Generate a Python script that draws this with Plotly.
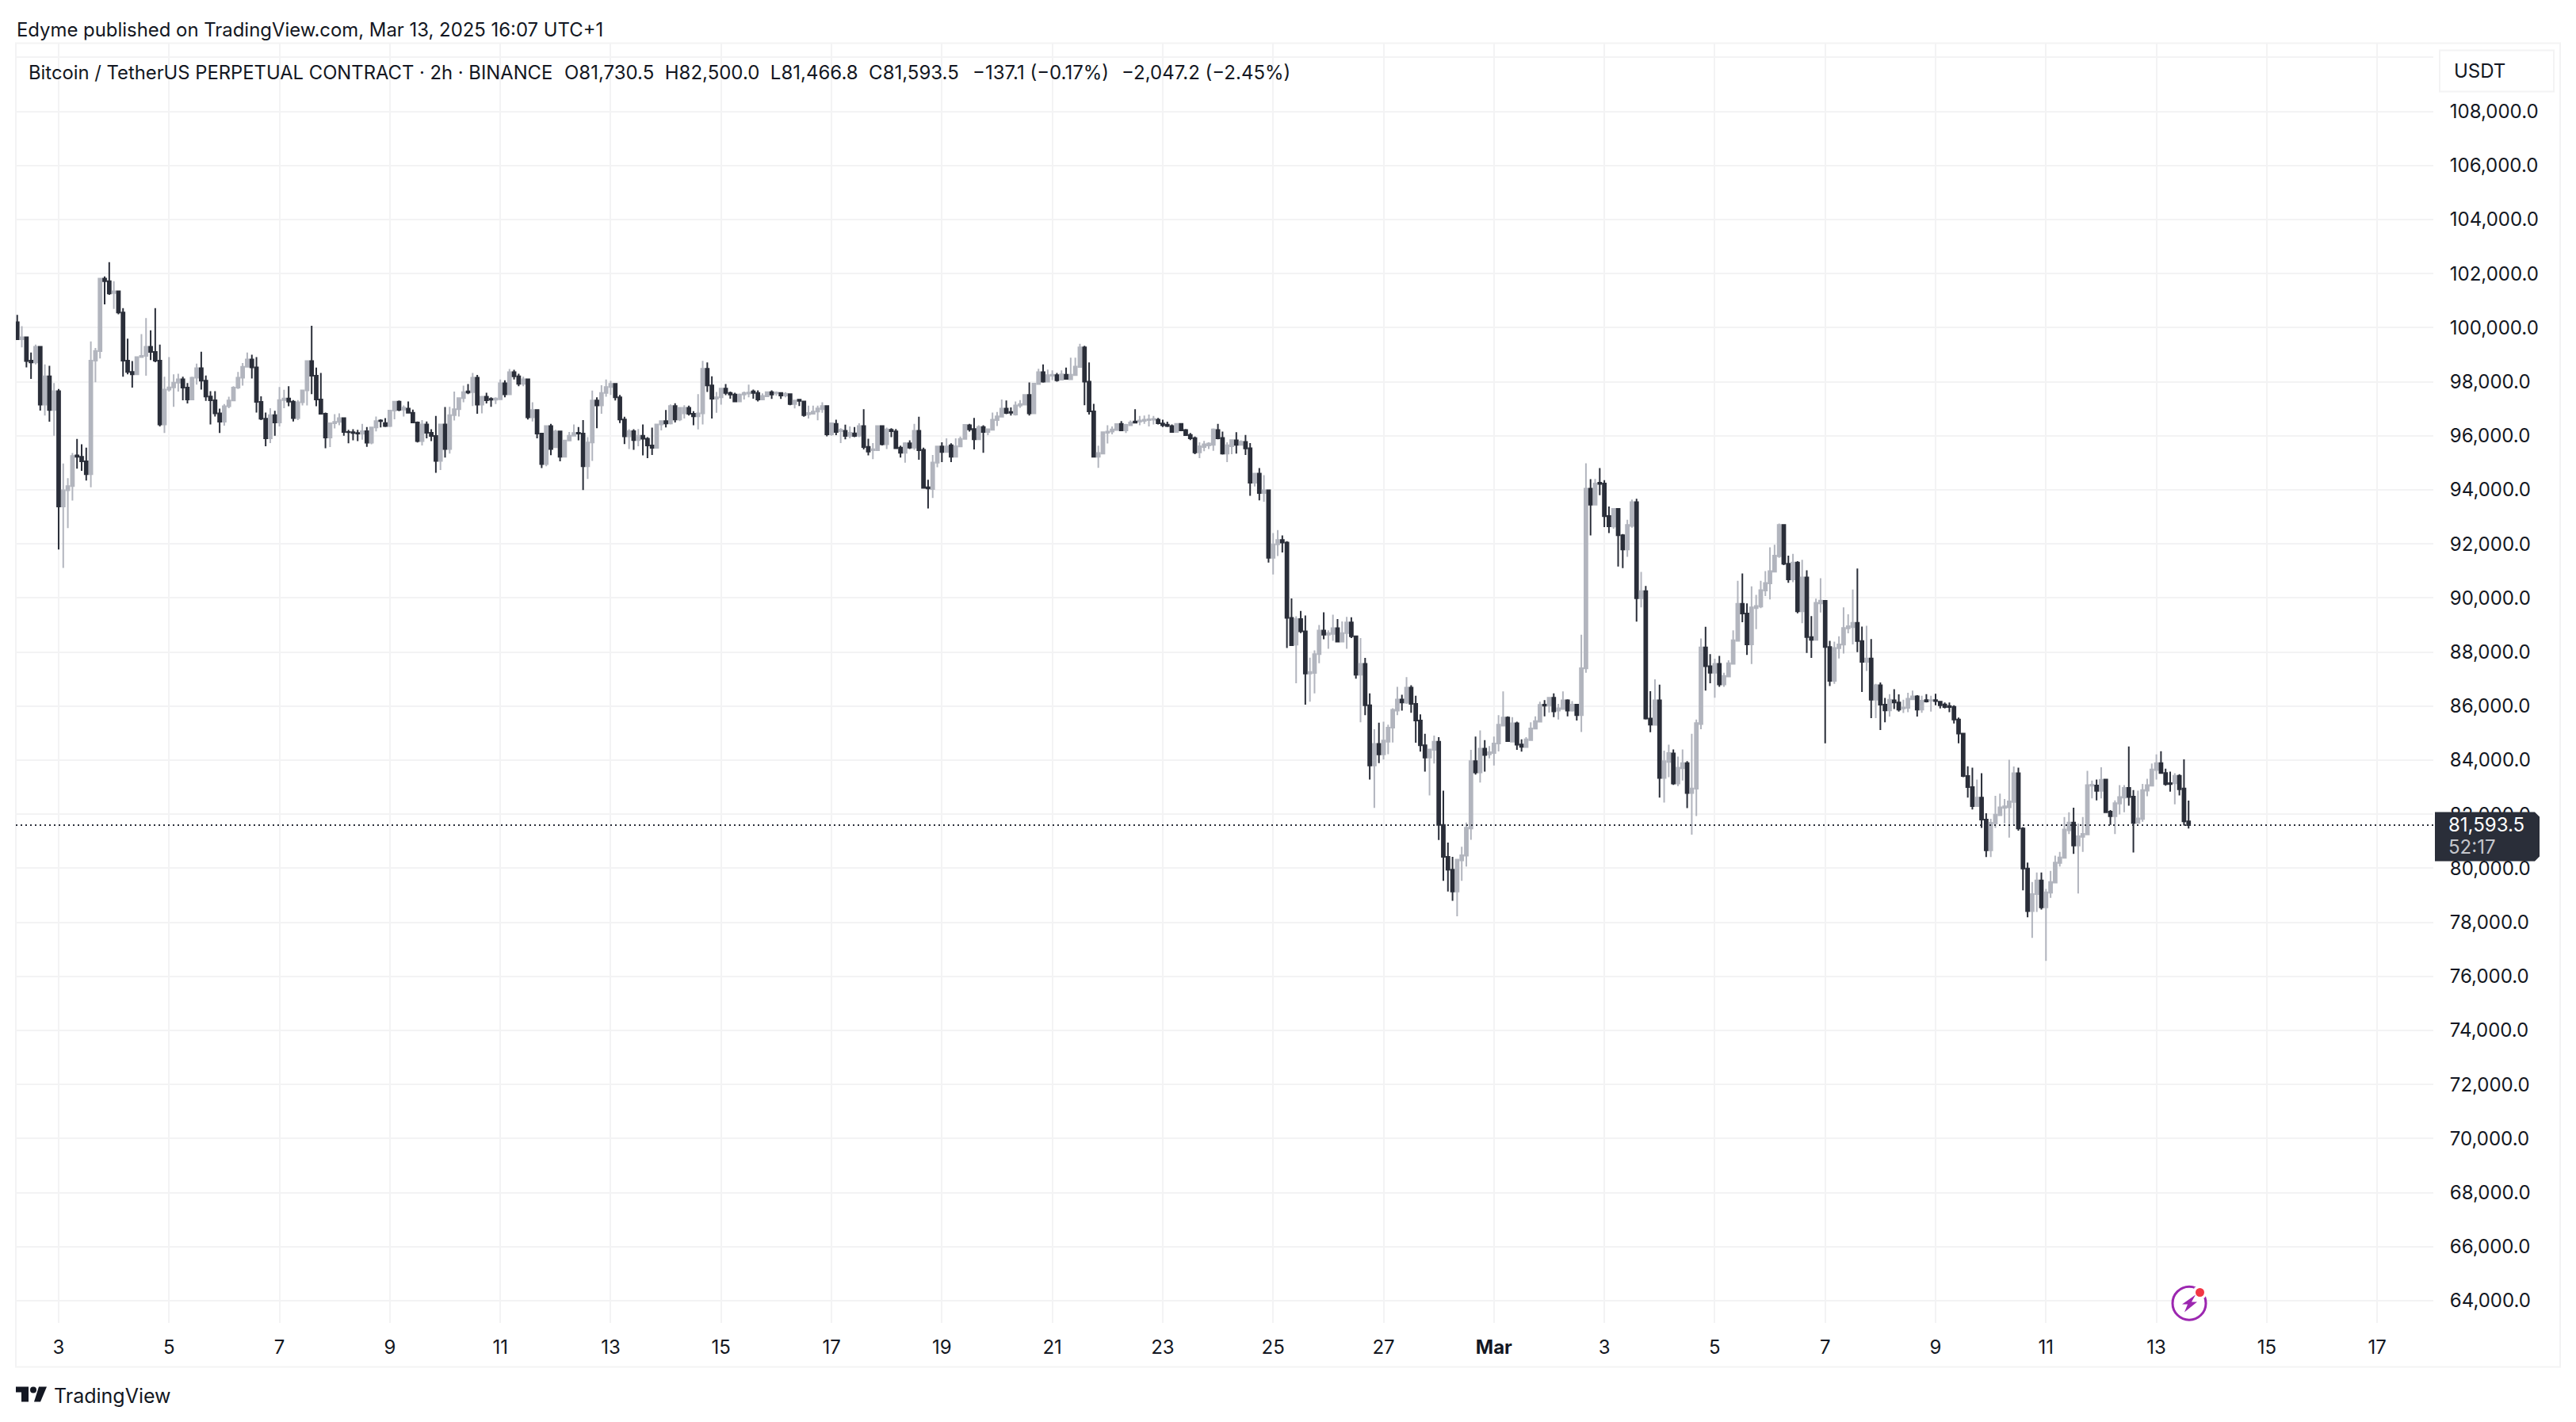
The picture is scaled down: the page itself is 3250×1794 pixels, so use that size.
import pandas as pd
import plotly.graph_objects as go

# 2h BTCUSDT.P bars
opens = [
    100200,99570,99640,98780,98710,99290,97150,98200,96950,97650,
    93380,93980,94140,95270,95220,95050,94580,98780,99130,101810,
    101720,101280,101340,100560,98780,98360,98270,98910,98950,99290,
    99100,98780,96420,97710,97790,97960,98090,97780,97340,98150,
    98500,98040,97450,97310,96830,96520,97090,97300,97780,98150,
    98550,98820,98530,97250,96630,95900,96760,96490,97320,97380,
    97260,96650,97240,97680,98760,98220,97340,96810,95930,96460,
    96510,96650,96140,96130,96100,96070,96170,95740,96310,96560,
    96470,96360,96930,97260,96970,97000,96850,96490,95800,96420,
    96110,95990,95070,96420,95510,96760,96980,97390,97640,97610,
    98150,97150,97440,97360,97330,97350,97940,97530,98350,98200,
    97920,98090,96680,96950,96080,94950,96360,95570,96160,95220,
    95820,96000,96110,96080,94870,95750,97300,97120,97580,97800,
    97920,97420,96600,95980,96170,
    95840,96000,95890,95640,95550,96420,96540,96450,97100,96600,
    96830,97030,96810,96720,96830,98480,97860,97370,97420,97740,
    97580,97520,97270,97520,97560,97640,97580,97340,97460,97610,
    97570,97580,97490,97540,97170,97330,97270,96790,96810,96890,
    96980,97100,96050,96440,96170,96180,95990,96090,96000,96360,
    95590,95460,95460,96360,95680,96220,96160,95560,95370,95720,
    95560,96180,95480,94090,94030,95000,95600,95400,95650,95220,
    95600,95880,96390,96250,95870,96320,96140,96220,96580,96700,
    97000,96880,96780,97110,97150,97510,96830,97910,98350,98000,
    98220,98240,98070,98260,98090,98240,98540,99270,98000,96900,
    95220,95340,96110,96150,96210,96440,96200,96390,96530,96520,
    96550,96580,96590,96590,96450,96410,96360,96140,96440,96210,
    96030,95910,95380,95580,95640,95660,96210,95920,95340,95610,
    95830,95660,95770,95540,94260,94600,93880,
    93980,91480,91980,92140,92050,89260,88270,89220,88760,87200,
    87220,87920,88790,88640,88670,88880,88380,88700,89090,88580,
    87160,87560,86030,83800,84600,84210,84680,85200,85830,86240,
    86120,86680,86080,85460,84550,84090,84380,84680,81600,80420,
    79940,79140,80290,80460,81470,83960,83540,84420,84210,84260,
    84610,85270,85570,84680,85360,84580,84480,84740,85160,85420,
    86050,86010,86310,85830,85890,86210,85830,86050,85660,87390,
    94040,93450,94260,94230,93030,92640,93290,92320,91790,92660,
    93540,89990,90250,85540,85300,86210,83340,83930,84250,83130,
    83700,83890,82780,82940,85330,88170,87470,87230,87560,86800,
    87090,87560,88410,89780,
    89420,88280,89620,89680,90270,90540,90970,91540,92700,91260,
    90680,91310,89500,90760,88550,88450,89800,89890,88180,86930,
    88140,88270,88870,88920,89080,88400,87630,87760,86230,86770,
    86050,85840,86210,86130,85910,85930,86250,86360,85870,86220,
    86200,86220,86160,86060,86000,85970,85500,84980,83410,83000,
    82300,82610,81800,80660,81660,81960,82230,82250,82450,83510,
    81470,79990,78410,79040,79550,78550,79090,79470,80190,80380,
    81400,81690,80840,81160,81250,83050,83060,82860,83280,82090,
    81920,82390,82610,82970,82650,81670,81820,82870,83050,83630,
    83890,83520,83150,83140,83420,82950,81730.5,
]
highs = [
    100470,100050,99640,99080,99370,99300,98640,98590,97950,97730,
    94970,94430,95360,95880,95680,95560,99490,99250,101810,101890,
    102420,101720,101360,100720,99590,98760,98910,99760,100350,99900,
    100720,99370,98180,98910,98270,98290,98180,97950,98180,98670,
    99110,98230,97650,97650,97000,97170,97440,97830,98360,98690,
    99080,99000,98910,97460,96860,97020,96920,97800,97700,97830,
    97320,97320,97710,98780,100070,98520,98320,96860,96490,96800,
    96830,96660,96220,96240,96220,96440,96320,96320,96710,96610,
    96650,96950,97260,97300,97120,97270,96970,96530,96580,96530,
    96240,96730,96440,97060,97070,97630,97420,97850,97910,98320,
    98250,97460,97590,97420,97420,98080,98050,98470,98440,98290,
    98180,98100,97240,96980,96100,96390,96440,96220,96180,95850,
    96140,96420,96320,96580,95950,97670,97420,97870,98080,98030,
    97930,97510,96700,96240,96240,
    96250,96420,95950,96300,96420,96570,96950,97160,97200,97030,
    97130,97110,96910,97540,98770,98710,98200,97620,97760,97910,
    97630,97590,97560,97630,97890,97710,97680,97570,97630,97680,
    97640,97610,97610,97560,97300,97340,97270,97110,97110,97110,
    97240,97130,96460,96590,96280,96410,96340,96320,96460,96980,
    95890,95730,96360,96360,96300,96280,96250,95630,95760,95830,
    96440,96700,95560,94370,95290,95630,95760,95900,95720,95900,
    95970,96420,96440,96660,96390,96390,96250,96860,96880,97340,
    97300,97050,97270,97320,97510,97970,97930,98480,98640,98450,
    98420,98320,98420,98520,98890,98890,99400,99330,98710,97180,
    95630,96130,96390,96340,96460,96540,96440,96560,96980,96730,
    96750,96780,96730,96660,96590,96520,96420,96460,96460,96250,
    96100,95970,95760,95810,95760,96270,96440,96150,95760,95850,
    96130,95830,96030,95730,94610,94800,94540,
    93990,92400,92510,92310,92100,89980,89320,89520,89350,87790,
    88060,89000,89470,88800,89380,89220,89130,89300,89280,88590,
    88510,87780,86470,85140,85380,85420,85310,85920,86710,86420,
    87070,86770,86380,85690,84970,84420,84910,84850,82870,80950,
    80420,80320,80790,81690,84380,84870,85100,84740,84520,84870,
    85660,86540,85620,85590,85420,84770,84850,85400,85620,86160,
    86220,86320,86470,86080,86540,86250,86180,86080,88640,94980,
    94390,94400,94800,94360,93380,93290,93290,92360,92890,93640,
    93670,90960,90440,86550,86990,86790,84350,84570,84390,84130,
    84390,83960,84970,85500,88500,88930,87920,87750,87850,87230,
    87690,88800,90630,90900,
    89800,90430,90110,90630,90990,91870,91970,92750,92730,91560,
    91630,91360,91410,91020,89330,89970,90730,89900,88410,88380,
    88580,89650,89390,90310,91090,88940,88970,88480,86820,86870,
    86300,86440,86620,86430,86230,86490,86570,86400,86380,86440,
    86380,86450,86180,86130,86130,86030,85570,85010,83770,83720,
    83280,83510,82030,81830,82680,82760,82560,84010,83760,83720,
    81520,80210,79490,79840,79840,79230,79900,80460,80600,81890,
    82070,82240,81650,81890,83600,83240,83280,83730,83300,82150,
    82510,83070,83070,84500,82890,82870,83120,83310,83870,84210,
    84330,83680,83570,83510,83480,84030,82500,
]
lows = [
    99570,99270,98530,98100,98640,96930,96750,96520,96000,91790,
    91110,92580,93600,94780,94700,94340,94090,97980,98860,100860,
    101210,100690,100490,98180,98270,97780,98270,98900,98220,98800,
    98720,96340,96100,97630,97070,97630,97310,97190,97340,97890,
    97710,97290,96420,96710,96100,96370,97020,97280,97730,97850,
    98550,98120,96860,96580,95610,95730,96000,96340,97020,97090,
    96530,96580,97120,97120,97540,97090,96810,95540,95580,96270,
    96390,96000,95720,95830,95800,95850,95590,95680,96160,96310,
    96320,96320,96610,96910,96710,96830,96490,95750,95640,95900,
    95800,94630,94730,95190,95340,96560,96710,97240,97540,97100,
    96810,96830,97190,97070,97170,97350,97420,97510,98080,97830,
    97830,96600,96530,95900,94800,94870,95280,95570,95050,95210,
    95800,95970,95830,93990,94400,95070,96280,96810,97440,97510,
    97300,96470,95690,95510,95480,
    95610,95270,95170,95290,95550,96200,96310,96420,96490,96540,
    96640,96750,96390,96230,96420,97620,96640,96850,97150,97500,
    97370,97270,97240,97340,97420,97370,97270,97340,97440,97360,
    97480,97360,97420,97130,97010,97100,96700,96640,96790,96570,
    96850,95980,96000,96020,95730,95870,95900,95950,95950,95490,
    95270,95130,95460,95640,95510,95950,95510,95190,95000,95510,
    95480,95110,94050,93310,93700,94830,95020,95400,95020,95220,
    95590,95870,96150,95490,95870,95370,96020,96210,96360,96700,
    96800,96750,96750,97030,97150,96750,96830,97890,97960,98000,
    98060,98000,98070,98080,98090,98240,98540,97130,96780,95190,
    94810,95340,95710,96050,96210,96200,96100,96360,96460,96390,
    96440,96340,96420,96420,96320,96320,96130,96140,96200,96000,
    95840,95320,95170,95430,95510,95440,95870,95300,95020,95320,
    95340,95660,95290,93780,94120,93610,93560,
    91310,90870,91550,91680,88150,88250,86840,88700,86050,86160,
    86470,87580,88470,88120,88410,88380,88380,88120,88510,87010,
    85400,85660,83280,82230,83890,84020,84220,84650,85660,85830,
    86080,85750,84640,84310,83570,82690,83870,81040,79530,79140,
    78790,78220,79530,80060,81050,83460,83170,83570,84060,83800,
    84320,85270,84680,84680,84380,84310,84450,84740,85140,85420,
    85620,85760,85590,85500,85890,85620,85790,85460,85040,87230,
    92310,93450,93800,92620,92400,92560,91160,91100,91520,92600,
    89120,89650,85500,85030,85270,82610,82430,83370,83080,83040,
    83240,82220,81240,81930,85140,86570,86840,86310,86710,86710,
    87090,87560,88410,89100,
    87890,87550,88840,89620,90070,89940,90970,91480,91210,90560,
    90580,89430,89060,87960,87780,88430,89460,84620,86740,86820,
    87760,87940,88690,88280,87990,86520,87300,85550,85550,85110,
    85400,85610,85890,85790,85740,85770,86230,85610,85750,86130,
    85790,86030,85910,85910,85770,85350,84620,83370,82610,82170,
    82290,81490,80410,80410,81490,81930,81660,81130,81590,81390,
    79180,78180,77420,78380,78470,76570,78900,79450,80060,80380,
    81260,80530,79060,80600,81250,82580,82510,82580,82070,81600,
    81260,81990,82070,82310,80580,81670,81720,82660,83050,83280,
    83520,83050,82830,82360,82690,81580,81466.8,
]
closes = [
    99570,99640,98760,98710,99290,97150,98200,96950,97650,93380,
    93980,94140,95250,95220,95050,94580,98780,99140,101810,101720,
    101260,101340,100560,98780,98360,98270,98910,98950,99290,99100,
    98780,96420,97710,97790,97960,98090,97780,97340,98150,98500,
    98040,97450,97310,96830,96520,97090,97300,97780,98150,98550,
    98820,98530,97250,96630,95900,96760,96490,97320,97380,97260,
    96650,97240,97680,98760,98220,97340,96810,95930,96460,96510,
    96650,96140,96130,96100,96080,96170,95740,96310,96540,96540,
    96360,96930,97260,96960,97040,96850,96490,95800,96420,96110,
    95990,95070,96420,95510,96760,96980,97390,97610,97600,98150,
    97150,97440,97310,97330,97380,97940,97530,98350,98200,97920,
    98090,96680,96950,96080,94950,96360,95510,96160,95220,95820,
    96000,96100,96080,94870,95750,97300,97120,97580,97800,97920,
    97420,96600,95980,96170,95840,
    96000,95890,95640,95550,96420,96540,96450,97100,96600,97030,
    97030,96810,96720,96830,98480,97860,97370,97420,97740,97580,
    97520,97270,97520,97580,97600,97580,97340,97470,97610,97520,
    97600,97490,97550,97170,97300,97290,96760,96840,96890,97010,
    97100,96050,96460,96140,96220,95990,96110,95990,96360,95580,
    95410,95500,96360,95680,96230,96170,95540,95370,95720,95560,
    96180,95460,94070,94050,95010,95600,95400,95600,95220,95610,
    95880,96400,96230,95870,96320,96140,96240,96590,96720,97000,
    96840,96850,97120,97170,97510,96830,97930,98350,98000,98240,
    98260,98050,98270,98100,98260,98560,99270,98000,96900,95220,
    95360,96130,96150,96230,96430,96200,96400,96490,96480,96560,
    96590,96610,96620,96460,96390,96360,96140,96440,96200,96020,
    95900,95380,95610,95680,95710,96230,95900,95340,95650,95840,
    95660,95780,95530,94260,94600,93880,93980,
    91480,91980,92140,92050,89260,88250,89220,88760,87200,87260,
    87920,88790,88640,88700,88880,88380,88700,89090,88580,87160,
    87560,86030,83800,84600,84210,84720,85200,85860,86240,86130,
    86680,86080,85460,84550,84090,84390,84680,81600,80420,79940,
    79140,80320,80480,81500,83960,83540,84420,84190,84290,84610,
    85310,85570,84700,85360,84570,84490,84770,85170,85440,86040,
    86010,86310,85800,85920,86210,85830,86050,85660,87400,94040,
    93450,94230,94220,93020,92650,93290,92320,91790,92700,93540,
    89990,90250,85540,85310,86210,83340,83960,84260,83130,83720,
    83890,82780,82950,85370,88170,87470,87230,87560,86800,87110,
    87580,88430,89780,89420,
    88280,89650,89700,90290,90550,90990,91560,92700,91260,90680,
    91310,89500,90760,88550,88450,89820,89900,88180,86930,88150,
    88280,88890,88950,89080,88400,87630,87760,86230,86770,86050,
    85840,86230,86130,85870,85950,86270,86360,85870,86200,86170,
    86220,86180,86030,85960,85960,85500,84980,83410,83000,82300,
    82610,81800,80660,81680,81980,82250,82290,82470,83510,81470,
    79990,78410,79040,79550,78550,79110,79490,80210,80400,81430,
    81690,80840,81180,81270,83070,83090,82860,83270,82070,81920,
    82410,82630,82970,82630,81670,81840,82890,83070,83650,83890,
    83520,83110,83110,83420,82920,81730,81593.5,
]

x_tick_dates = [
    "2025-02-03", "2025-02-05", "2025-02-07", "2025-02-09", "2025-02-11",
    "2025-02-13", "2025-02-15", "2025-02-17", "2025-02-19", "2025-02-21",
    "2025-02-23", "2025-02-25", "2025-02-27", "2025-03-01", "2025-03-03",
    "2025-03-05", "2025-03-07", "2025-03-09", "2025-03-11", "2025-03-13",
    "2025-03-15", "2025-03-17",
]
x_tick_labels = [
    "3", "5", "7", "9", "11", "13", "15", "17", "19", "21", "23", "25", "27",
    "<b>Mar</b>", "3", "5", "7", "9", "11", "13", "15", "17",
]
y_ticks = [
    64000, 66000, 68000, 70000, 72000, 74000, 76000, 78000, 80000, 82000, 84000, 86000,
    88000, 90000, 92000, 94000, 96000, 98000, 100000, 102000, 104000, 106000, 108000, 110000,
]
y_labels = [f"{v:,.1f}" for v in y_ticks[:-1]] + [""]

TITLE = "Edyme published on TradingView.com, Mar 13, 2025 16:07 UTC+1"
SYMBOL = "Bitcoin / TetherUS PERPETUAL CONTRACT · 2h · BINANCE"
OHLC = "O81,730.5&#160;&#160;H82,500.0&#160;&#160;L81,466.8&#160;&#160;C81,593.5"
BAR_CHANGE = "−137.1 (−0.17%)"
DAY_CHANGE = "−2,047.2 (−2.45%)"

DARK = "#2a2e39"
GRAY = "#b2b5be"
GRID = "#f3f3f4"
INK = "#131722"
FONT = "Inter"

# page has an 8px body margin, picture sits about 1.5px high against the reference
OFF = 8
OFF_Y = 6.5
W = 3250 - 2 * OFF
H = 1794 - 2 * OFF


def px(x):
    return (x - OFF) / W


def py(y):
    return 1 - (y - OFF_Y) / H


def path(points, close=True):
    d = " ".join(f"{'M' if i == 0 else 'L'} {px(x):.5f} {py(y):.5f}" for i, (x, y) in enumerate(points))
    return d + (" Z" if close else "")


def text(x, y, s, size=24, color=INK, anchor="left"):
    return dict(xref="paper", yref="paper", x=px(x), y=py(y), text=s, showarrow=False,
                xanchor=anchor, yanchor="middle", borderpad=0,
                font=dict(family=FONT, size=size, color=color))


def circle(cx, cy, r, **kw):
    return dict(type="circle", xref="paper", yref="paper",
                x0=px(cx - r), x1=px(cx + r), y0=py(cy + r), y1=py(cy - r), **kw)


bar_times = pd.date_range("2025-02-02 06:00", periods=len(closes), freq="2h")

fig = go.Figure(go.Candlestick(
    x=bar_times,
    open=opens,
    high=highs,
    low=lows,
    close=closes,
    whiskerwidth=0,
    increasing=dict(line=dict(color=GRAY, width=2), fillcolor=GRAY),
    decreasing=dict(line=dict(color=DARK, width=2), fillcolor=DARK),
))

fig.update_layout(
    width=W,
    height=H,
    margin=dict(l=0, r=0, t=0, b=0),
    paper_bgcolor="white",
    plot_bgcolor="white",
    showlegend=False,
    boxgap=0.35,
    boxgroupgap=0,
    xaxis=dict(
        domain=[px(20), px(3070)],
        range=["2025-02-02 05:24", "2025-03-18 00:24"],
        rangeslider=dict(visible=False),
        tickmode="array",
        tickvals=x_tick_dates,
        ticktext=x_tick_labels,
        tickangle=0,
        showgrid=True,
        gridcolor=GRID,
        gridwidth=2,
        zeroline=False,
        showline=False,
        ticks="outside",
        ticklen=10,
        tickcolor="rgba(0,0,0,0)",
        tickfont=dict(family=FONT, size=24, color=INK),
    ),
    yaxis=dict(
        domain=[py(1667), py(53)],
        range=[63191, 110522],
        side="right",
        tickmode="array",
        tickvals=y_ticks,
        ticktext=y_labels,
        showgrid=True,
        gridcolor=GRID,
        gridwidth=2,
        zeroline=False,
        showline=False,
        ticks="outside",
        ticklen=15,
        tickcolor="rgba(0,0,0,0)",
        tickfont=dict(family=FONT, size=24, color=INK),
    ),
)

r = 6
shapes = [
    # chart frame
    dict(type="rect", xref="paper", yref="paper", x0=px(20), x1=px(3230), y0=py(1723), y1=py(53),
         line=dict(color=GRID, width=2), layer="below"),
    # last price line
    dict(type="line", xref="paper", yref="y", x0=px(20), x1=px(3070), y0=closes[-1], y1=closes[-1],
         line=dict(color=DARK, width=2, dash="2px,4px")),
    # last price box
    dict(type="path", xref="paper", yref="paper", fillcolor=DARK, line=dict(width=0),
         path=path([(3072, 1023), (3204 - r, 1023), (3204, 1023 + r), (3204, 1085 - r), (3204 - r, 1085), (3072, 1085)])),
    # currency button
    dict(type="rect", xref="paper", yref="paper", x0=px(3078), x1=px(3222), y0=py(114), y1=py(62),
         fillcolor="white", line=dict(color=GRID, width=2)),
    # lightning badge
    circle(2762, 1642.7, 21, fillcolor="white", line=dict(color="#9c27b0", width=3)),
    circle(2775.5, 1629, 9, fillcolor="white", line=dict(width=0)),
    circle(2775.5, 1629, 5.5, fillcolor="#f23645", line=dict(width=0)),
    dict(type="path", xref="paper", yref="paper", fillcolor="#9c27b0", line=dict(width=0),
         path=path([(2770, 1632), (2753, 1644), (2760, 1644), (2756, 1654), (2772, 1641), (2765, 1641)])),
    # TradingView logo
    dict(type="path", xref="paper", yref="paper", fillcolor=INK, line=dict(width=0),
         path=path([(20, 1748), (36, 1748), (36, 1767), (27, 1767), (27, 1755), (20, 1755)])),
    circle(42, 1752, 4, fillcolor=INK, line=dict(width=0)),
    dict(type="path", xref="paper", yref="paper", fillcolor=INK, line=dict(width=0),
         path=path([(49, 1748), (59, 1748), (51, 1767), (43, 1767)])),
]
fig.update_layout(shapes=shapes)

fig.update_layout(annotations=[
    text(20, 36, TITLE, size=23.9),
    text(35, 90, SYMBOL, size=23.8),
    text(711, 90, OHLC),
    text(1226, 90, BAR_CHANGE),
    text(1414, 90, DAY_CHANGE),
    text(3095, 88, "USDT"),
    text(3088, 1039, "81,593.5", color="white"),
    text(3088, 1067, "52:17", color="#c4c6cc"),
    text(67, 1759, "TradingView", size=25),
])

fig.write_html("out.html")
